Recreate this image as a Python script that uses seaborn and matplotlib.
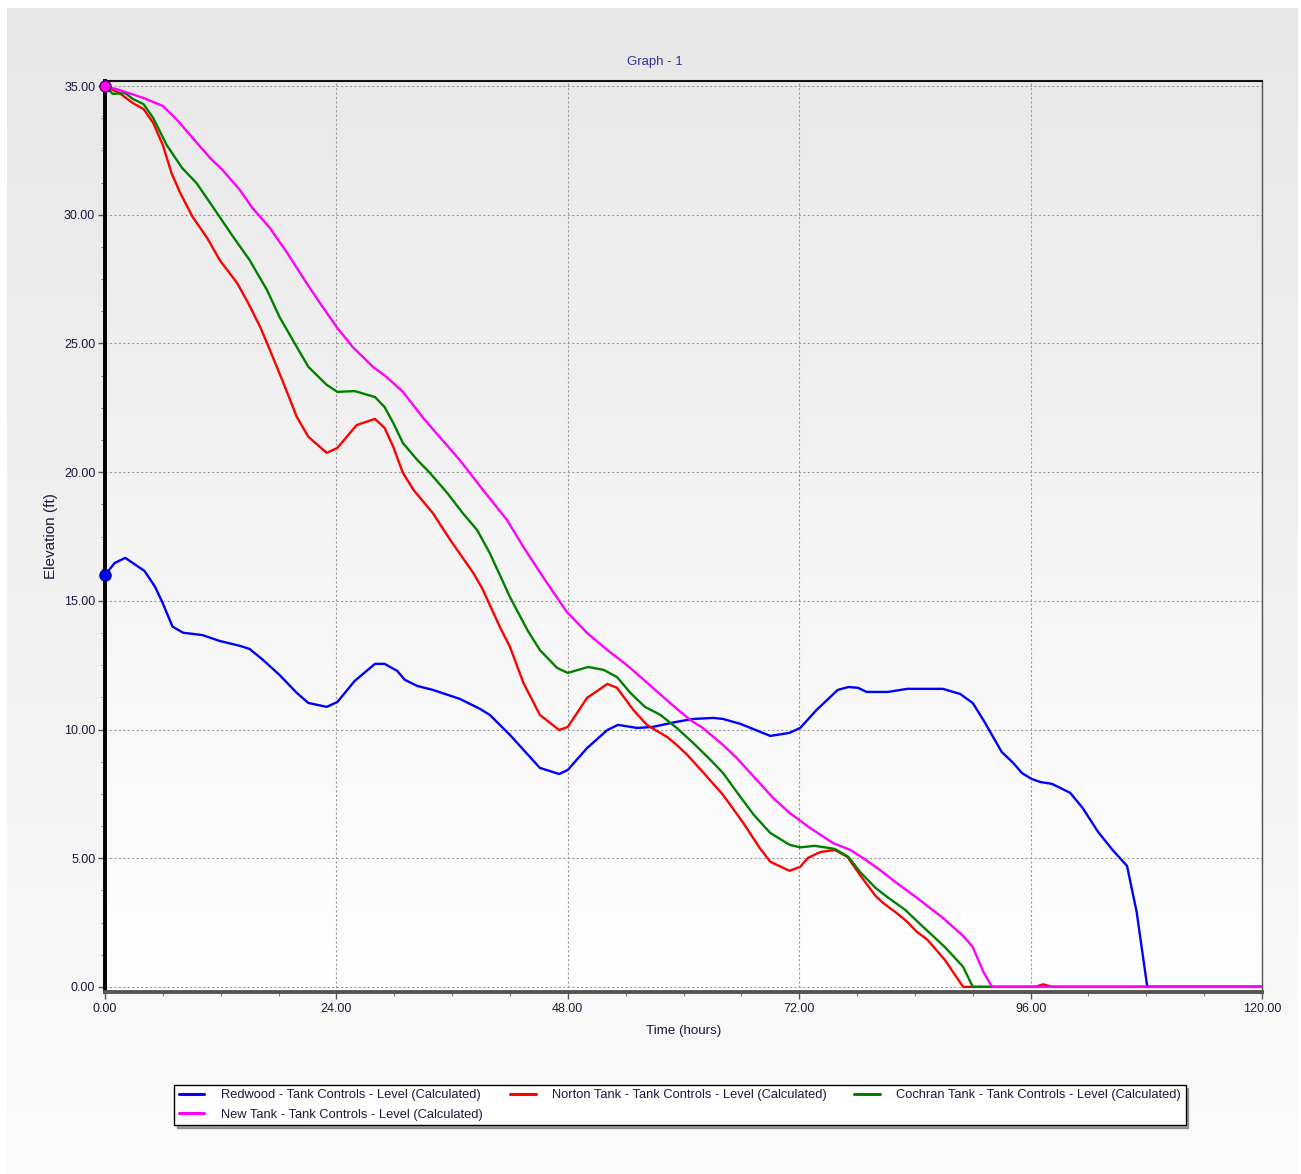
import numpy as np
import pandas as pd
import matplotlib
matplotlib.use("Agg")
import matplotlib.pyplot as plt
import seaborn as sns
from matplotlib.lines import Line2D
from matplotlib.ticker import MultipleLocator, FormatStrFormatter

# --- data (time in hours, level in ft) ---
redwood_t = [0, 1, 2.1, 4.1, 5.2, 6.0, 7.0, 8.1, 10.1, 11.9, 14.0, 15.0, 16.4, 18.1, 19.9,
             21.1, 23.0, 24.1, 25.9, 28.0, 29.0, 30.3, 31.1, 32.4, 34.0, 36.8, 38.9, 39.9,
             42.0, 45.1, 47.1, 48.0, 50.0, 52.1, 53.2, 55.2, 56.8, 59.3, 61.0, 63.1, 64.1,
             65.9, 69.0, 71.0, 72.1, 73.8, 76.0, 77.1, 78.1, 79.0, 81.2, 83.2, 86.9, 88.7,
             90.0, 91.1, 93.0, 94.2, 95.1, 96.1, 97.0, 98.2, 100.1, 101.4, 103.0, 104.5,
             106.0, 107.0, 108.1, 120]
redwood_v = [16.0, 16.47, 16.67, 16.16, 15.54, 14.9, 14.0, 13.76, 13.67, 13.44, 13.25, 13.13,
             12.7, 12.12, 11.42, 11.03, 10.88, 11.07, 11.89, 12.55, 12.55, 12.28, 11.93, 11.69,
             11.54, 11.19, 10.80, 10.57, 9.79, 8.51, 8.27, 8.43, 9.28, 9.98, 10.18, 10.06,
             10.10, 10.30, 10.41, 10.45, 10.41, 10.22, 9.75, 9.87, 10.06, 10.76, 11.54, 11.65,
             11.62, 11.46, 11.46, 11.58, 11.58, 11.38, 11.03, 10.37, 9.13, 8.70, 8.31, 8.08,
             7.96, 7.89, 7.54, 6.95, 6.02, 5.32, 4.70, 2.91, 0.0, 0.0]

norton_t = [0, 1.5, 2.9, 4.0, 5.0, 6.0, 6.9, 7.8, 9.1, 10.6, 11.9, 13.7, 14.8, 16.1, 17.1,
            18.5, 19.9, 21.1, 23.0, 24.1, 26.1, 28.0, 29.0, 29.9, 30.9, 32.0, 34.0, 35.8,
            38.2, 39.1, 41.0, 42.0, 43.4, 45.1, 47.1, 48.0, 50.0, 52.1, 53.1, 54.8, 56.2,
            58.3, 59.3, 60.4, 62.0, 64.1, 66.2, 67.9, 69.0, 71.0, 72.1, 72.9, 74.2, 75.7,
            77.0, 78.3, 79.9, 80.7, 82.1, 83.2, 84.2, 85.3, 87.1, 89.0, 96.5, 97.3, 98.2, 120]
norton_v = [35.0, 34.73, 34.34, 34.11, 33.57, 32.71, 31.62, 30.85, 29.91, 29.10, 28.24, 27.35,
            26.61, 25.64, 24.75, 23.47, 22.14, 21.37, 20.75, 20.94, 21.83, 22.07, 21.72, 20.98,
            19.97, 19.31, 18.41, 17.37, 16.08, 15.50, 13.95, 13.21, 11.81, 10.57, 9.98, 10.10,
            11.23, 11.77, 11.62, 10.76, 10.18, 9.71, 9.40, 9.01, 8.35, 7.46, 6.37, 5.40, 4.86,
            4.51, 4.66, 5.01, 5.24, 5.32, 5.05, 4.35, 3.54, 3.26, 2.87, 2.53, 2.14, 1.83, 1.05,
            0.0, 0.0, 0.1, 0.0, 0.0]

cochran_t = [0, 0.8, 2.1, 2.9, 4.0, 5.0, 6.4, 8.0, 9.5, 11.2, 13.3, 15.0, 16.8, 18.1, 19.9,
             21.1, 23.0, 24.1, 25.9, 28.0, 29.0, 29.9, 30.9, 32.4, 33.7, 35.5, 37.1, 38.6,
             39.9, 42.0, 43.8, 45.1, 46.9, 48.0, 50.1, 51.7, 53.1, 54.5, 56.0, 57.6, 59.3,
             61.0, 62.9, 64.1, 65.9, 67.3, 69.0, 71.0, 72.1, 73.6, 75.7, 77.1, 78.3, 79.9,
             81.1, 83.0, 84.2, 85.4, 87.1, 89.0, 90.0, 120]
cochran_v = [35.0, 34.7, 34.73, 34.50, 34.30, 33.76, 32.71, 31.82, 31.23, 30.30, 29.14, 28.24,
             27.08, 26.03, 24.86, 24.09, 23.39, 23.12, 23.15, 22.92, 22.53, 21.91, 21.13, 20.47,
             19.97, 19.19, 18.41, 17.75, 16.86, 15.15, 13.87, 13.09, 12.39, 12.20, 12.43, 12.32,
             12.04, 11.42, 10.88, 10.57, 10.06, 9.48, 8.78, 8.31, 7.38, 6.68, 5.98, 5.52, 5.42,
             5.48, 5.36, 5.05, 4.47, 3.85, 3.50, 2.99, 2.56, 2.14, 1.55, 0.78, 0.0, 0.0]

newtank_t = [0, 1.5, 4.0, 6.0, 7.5, 9.1, 10.9, 12.2, 14.0, 15.3, 17.1, 18.9, 20.9, 22.3, 24.1,
             25.7, 27.8, 29.2, 30.9, 33.0, 34.7, 36.8, 39.2, 41.7, 43.4, 45.6, 47.9, 50.0,
             52.1, 54.1, 56.5, 58.6, 60.7, 62.0, 64.1, 65.5, 67.6, 69.3, 71.0, 73.1, 75.5,
             77.3, 78.6, 80.1, 82.1, 84.2, 86.9, 89.0, 90.0, 91.1, 92.0, 120]
newtank_v = [35.0, 34.85, 34.54, 34.23, 33.68, 32.98, 32.21, 31.74, 30.96, 30.26, 29.49, 28.52,
             27.35, 26.57, 25.60, 24.86, 24.09, 23.70, 23.12, 22.11, 21.37, 20.47, 19.31, 18.14,
             17.09, 15.83, 14.57, 13.75, 13.09, 12.51, 11.73, 11.03, 10.37, 10.06, 9.40, 8.90,
             8.04, 7.34, 6.76, 6.18, 5.59, 5.32, 5.01, 4.62, 4.04, 3.46, 2.68, 1.98, 1.55, 0.58,
             0.0, 0.0]

series_names = ["Redwood - Tank Controls - Level (Calculated)",
                "Norton Tank - Tank Controls - Level (Calculated)",
                "Cochran Tank - Tank Controls - Level (Calculated)",
                "New Tank - Tank Controls - Level (Calculated)"]
series_colors = ["#0000ff", "#ff0000", "#008000", "#ff00ff"]
x_ticks = [0, 24, 48, 72, 96, 120]
y_ticks = [0, 5, 10, 15, 20, 25, 30, 35]

frames = []
for name, t, v in zip(series_names,
                      [redwood_t, norton_t, cochran_t, newtank_t],
                      [redwood_v, norton_v, cochran_v, newtank_v]):
    frames.append(pd.DataFrame({"Time": t, "Level": v, "Series": name}))
df = pd.concat(frames, ignore_index=True)

sns.set_style("ticks")
plt.rcParams["font.family"] = ["Liberation Sans", "DejaVu Sans"]
txt_color = "#1a1a3a"

fig = plt.figure(figsize=(13.01, 11.74), dpi=100, facecolor="white")

# gradient panel behind everything
bg = fig.add_axes([7 / 1301, 0, 1 - 10 / 1301, 1 - 8 / 1174], zorder=-2)
grad = np.linspace(0, 1, 256).reshape(-1, 1)
bg.imshow(grad, aspect="auto", cmap=matplotlib.colors.LinearSegmentedColormap.from_list(
    "bgpanel", ["#e7e7e7", "#fbfbfb"]), extent=[0, 1, 0, 1])
bg.set_axis_off()

ax = fig.add_axes([105 / 1301, 182 / 1174, 1157 / 1301, 911 / 1174])
ax.imshow(grad, aspect="auto", cmap=matplotlib.colors.LinearSegmentedColormap.from_list(
    "axpanel", ["#e9e9e9", "#ffffff"]), extent=[0, 120, -0.2, 35.2], zorder=0)

sns.lineplot(data=df, x="Time", y="Level", hue="Series", hue_order=series_names,
             palette=series_colors, estimator=None, sort=False, linewidth=1.7,
             legend=False, ax=ax, zorder=3)

# start-point markers
ax.plot([0], [redwood_v[0]], "o", color="#0000ff", mec="#000080", ms=8, zorder=5, clip_on=False)
ax.plot([0], [newtank_v[0]], "o", color="#ff00ff", mec="#600060", ms=8, zorder=5, clip_on=False)

ax.set_xlim(0, 120)
ax.set_ylim(-0.2, 35.2)
ax.set_xticks(x_ticks)
ax.set_yticks(y_ticks)
ax.xaxis.set_minor_locator(MultipleLocator(6))
ax.yaxis.set_minor_locator(MultipleLocator(1.25))
ax.xaxis.set_major_formatter(FormatStrFormatter("%.2f"))
ax.yaxis.set_major_formatter(FormatStrFormatter("%.2f"))
ax.tick_params(which="major", length=5, width=1, color="#555555", labelsize=9,
               labelcolor=txt_color, pad=3)
ax.tick_params(axis="y", which="major", pad=2)
ax.tick_params(which="minor", length=3, width=0.8, color="#777777")
ax.grid(True, which="major", color="#9a9a9a", linestyle=(0, (2, 2)), linewidth=0.8)
ax.set_axisbelow(True)

ax.spines["top"].set_color("#111111")
ax.spines["top"].set_linewidth(1.5)
ax.spines["right"].set_color("#555555")
ax.spines["right"].set_linewidth(1.0)
ax.spines["left"].set_color("#000000")
ax.spines["left"].set_linewidth(2.8)
ax.spines["bottom"].set_color("#555555")
ax.spines["bottom"].set_linewidth(2.8)

ax.set_xlabel("Time (hours)", fontsize=9.6, color=txt_color, labelpad=7)
ax.set_ylabel("Elevation (ft)", fontsize=11, color=txt_color, labelpad=4)
fig.text(655 / 1301, 1 - 62 / 1174, "Graph - 1", fontsize=9.5, color="#333399",
         ha="center", va="center")

# legend laid out row-wise like the original (3 columns, 2 rows)
handles = [Line2D([], [], color=c, lw=2.2) for c in series_colors]
order = [0, 3, 1, 2]
leg = fig.legend([handles[i] for i in order], [series_names[i] for i in order],
                 loc="center", bbox_to_anchor=(680 / 1301, 1 - 1105 / 1174), ncol=3,
                 fontsize=9.25, frameon=True, fancybox=False, shadow=True,
                 edgecolor="#000000", handlelength=2.0, handletextpad=1.3,
                 columnspacing=2.1, labelspacing=0.55, borderpad=0.35)
leg.get_frame().set_linewidth(1.0)
leg.get_frame().set_facecolor("white")
for t in leg.get_texts():
    t.set_color(txt_color)

fig.savefig("out.png", dpi=100, facecolor=fig.get_facecolor())
